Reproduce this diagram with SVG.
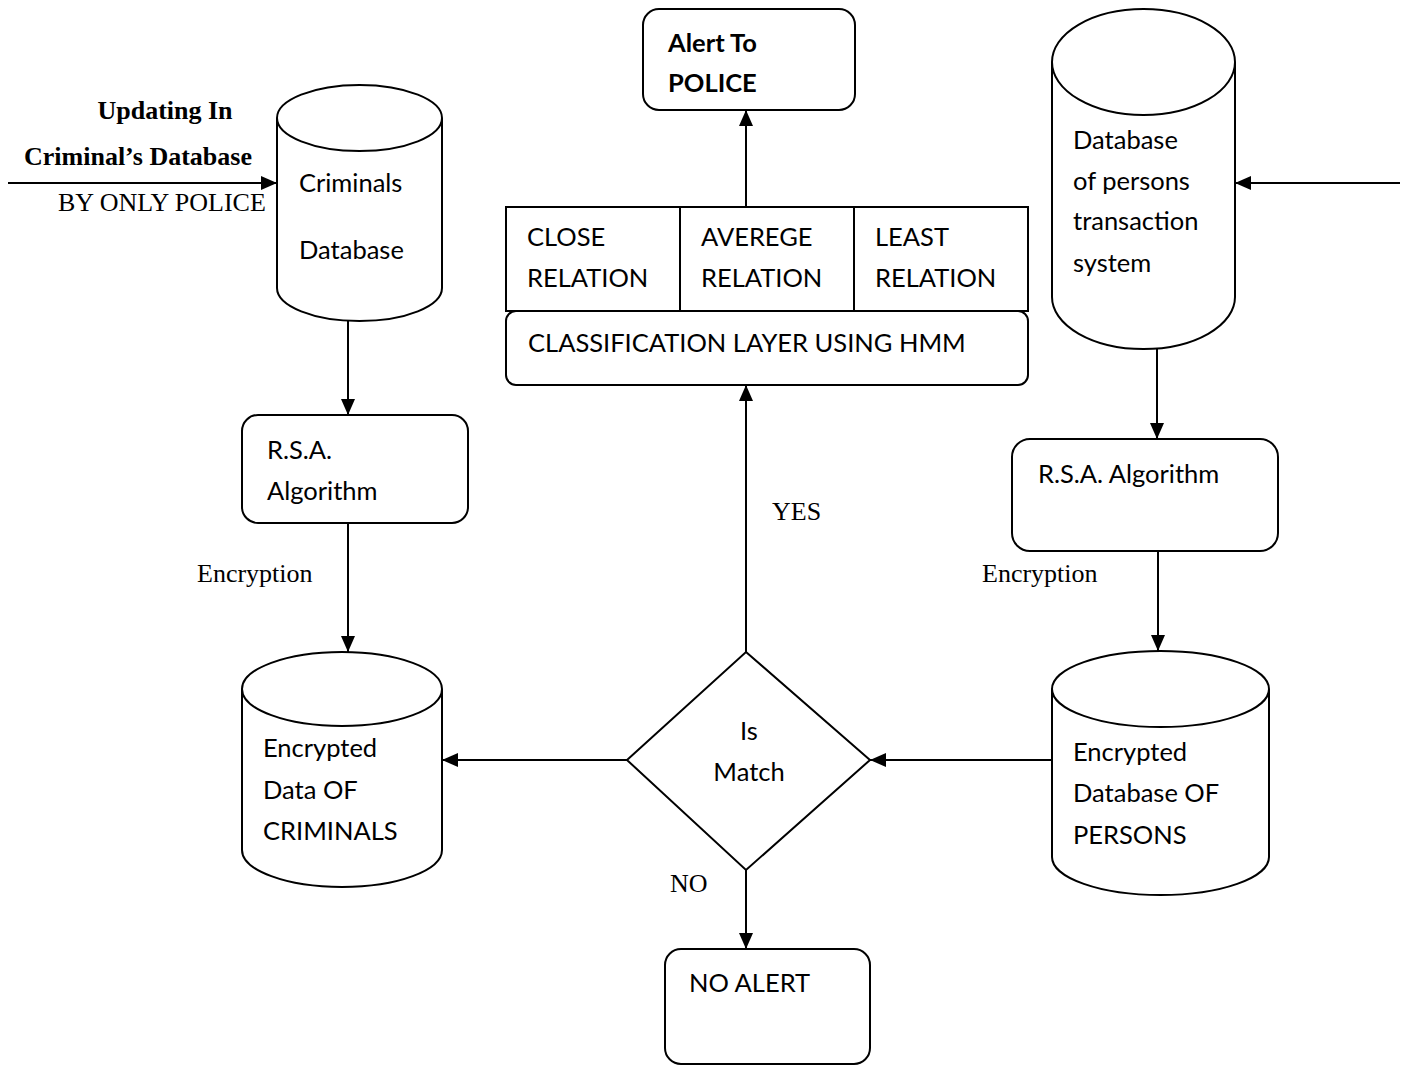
<svg xmlns="http://www.w3.org/2000/svg" width="1406" height="1066" viewBox="0 0 1406 1066">
<style>
.s{fill:#fff;stroke:#000;stroke-width:2}
.c{fill:none;stroke:#000;stroke-width:2}
.t{font-family:Lato,"Liberation Sans",sans-serif;font-size:25.5px;fill:#000}
.b{font-weight:bold}
.r{font-family:"Liberation Serif",serif;font-size:26px;fill:#000}
</style>
<defs>
<marker id="ah" viewBox="0 0 16 14" refX="16" refY="7" markerWidth="16" markerHeight="14" markerUnits="userSpaceOnUse" orient="auto">
<path d="M0,0 L16,7 L0,14 z" fill="#000"/>
</marker>
</defs>
<rect width="1406" height="1066" fill="#fff"/>

<g id="connectors">
<line class="c" x1="8" y1="183" x2="277" y2="183" marker-end="url(#ah)"/>
<line class="c" x1="1400" y1="183" x2="1235" y2="183" marker-end="url(#ah)"/>
<line class="c" x1="348" y1="321" x2="348" y2="415" marker-end="url(#ah)"/>
<line class="c" x1="348" y1="523" x2="348" y2="652" marker-end="url(#ah)"/>
<line class="c" x1="1157" y1="349" x2="1157" y2="439" marker-end="url(#ah)"/>
<line class="c" x1="1158" y1="551" x2="1158" y2="651" marker-end="url(#ah)"/>
<line class="c" x1="746" y1="207" x2="746" y2="110" marker-end="url(#ah)"/>
<line class="c" x1="746" y1="652" x2="746" y2="385" marker-end="url(#ah)"/>
<line class="c" x1="627" y1="760" x2="442" y2="760" marker-end="url(#ah)"/>
<line class="c" x1="1052" y1="760" x2="870" y2="760" marker-end="url(#ah)"/>
<line class="c" x1="746" y1="870" x2="746" y2="949" marker-end="url(#ah)"/>
<text class="r b" x="165" y="119" text-anchor="middle">Updating In</text>
<text class="r b" x="138" y="165" text-anchor="middle">Criminal’s Database</text>
<text class="r" x="58" y="211">BY ONLY POLICE</text>
<text class="r" x="197" y="582">Encryption</text>
<text class="r" x="982" y="582">Encryption</text>
<text class="r" x="772" y="520">YES</text>
<text class="r" x="670" y="892">NO</text>
</g>

<g id="criminals-db">
<path class="s" d="M277 118 V288 A82.5 33 0 0 0 442 288 V118"/>
<ellipse class="s" cx="359.5" cy="118" rx="82.5" ry="33"/>
<text class="t" x="299" y="192">Criminals</text>
<text class="t" x="299" y="259">Database</text>
</g>

<g id="rsa-left">
<rect class="s" x="242" y="415" width="226" height="108" rx="16"/>
<text class="t" x="267" y="459">R.S.A.</text>
<text class="t" x="267" y="500">Algorithm</text>
</g>

<g id="enc-criminals">
<path class="s" d="M242 689 V850 A100 37 0 0 0 442 850 V689"/>
<ellipse class="s" cx="342" cy="689" rx="100" ry="37"/>
<text class="t" x="263" y="757">Encrypted</text>
<text class="t" x="263" y="799">Data OF</text>
<text class="t" x="263" y="840">CRIMINALS</text>
</g>

<g id="alert-police">
<rect class="s" x="643" y="9" width="212" height="101" rx="16"/>
<text class="t b" x="668" y="52">Alert To</text>
<text class="t b" x="668" y="92">POLICE</text>
</g>

<g id="relations">
<rect class="s" x="506" y="207" width="522" height="104"/>
<line class="c" x1="680" y1="207" x2="680" y2="311"/>
<line class="c" x1="854" y1="207" x2="854" y2="311"/>
<text class="t" x="527" y="246">CLOSE</text>
<text class="t" x="527" y="287">RELATION</text>
<text class="t" x="701" y="246">AVEREGE</text>
<text class="t" x="701" y="287">RELATION</text>
<text class="t" x="875" y="246">LEAST</text>
<text class="t" x="875" y="287">RELATION</text>
</g>

<g id="classification">
<rect class="s" x="506" y="311" width="522" height="74" rx="10"/>
<text class="t" x="528" y="352">CLASSIFICATION LAYER USING HMM</text>
</g>

<g id="is-match">
<polygon class="s" points="746,652 870,760 746,870 627,760"/>
<text class="t" x="749" y="740" text-anchor="middle">Is</text>
<text class="t" x="749" y="781" text-anchor="middle">Match</text>
</g>

<g id="no-alert">
<rect class="s" x="665" y="949" width="205" height="115" rx="16"/>
<text class="t" x="689" y="992">NO ALERT</text>
</g>

<g id="persons-db">
<path class="s" d="M1052 62 V297 A91.5 52 0 0 0 1235 297 V62"/>
<ellipse class="s" cx="1143.5" cy="62" rx="91.5" ry="53"/>
<text class="t" x="1073" y="149">Database</text>
<text class="t" x="1073" y="190">of persons</text>
<text class="t" x="1073" y="230">transaction</text>
<text class="t" x="1073" y="272">system</text>
</g>

<g id="rsa-right">
<rect class="s" x="1012" y="439" width="266" height="112" rx="18"/>
<text class="t" x="1038" y="483">R.S.A. Algorithm</text>
</g>

<g id="enc-persons">
<path class="s" d="M1052 689 V857 A108.5 38 0 0 0 1269 857 V689"/>
<ellipse class="s" cx="1160.5" cy="689" rx="108.5" ry="38"/>
<text class="t" x="1073" y="761">Encrypted</text>
<text class="t" x="1073" y="802">Database OF</text>
<text class="t" x="1073" y="844">PERSONS</text>
</g>
</svg>
